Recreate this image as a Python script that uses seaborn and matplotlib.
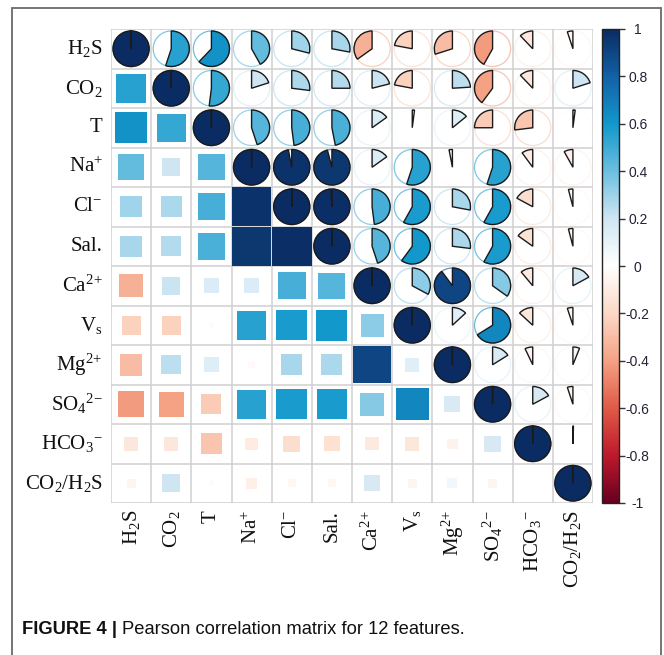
import numpy as np
import pandas as pd
import matplotlib
matplotlib.use("Agg")
import matplotlib.pyplot as plt
import seaborn as sns
from matplotlib.patches import Wedge, Rectangle, Circle
from matplotlib.colors import LinearSegmentedColormap

# ---------------- data ----------------
features = ["H$_2$S", "CO$_2$", "T", "Na$^{+}$", "Cl$^{-}$", "Sal.", "Ca$^{2\\!+}$",
            "V$_\\mathrm{s}$", "Mg$^{2\\!+}$", "SO$_4{}^{2\\!-}$", "HCO$_3{}^{-}$",
            "CO$_2$/H$_2$S"]

# upper-triangle correlations, row by row (each row: vs. the following features)
r_H2S = [0.55, 0.62, 0.42, 0.29, 0.28, -0.35, -0.22, -0.30, -0.42, -0.12, -0.05]
r_CO2 = [0.52, 0.20, 0.27, 0.25, 0.21, -0.22, 0.24, -0.40, -0.12, 0.20]
r_T = [0.45, 0.48, 0.47, 0.15, 0.02, 0.14, -0.25, -0.27, 0.02]
r_Na = [0.97, 0.96, 0.15, 0.55, -0.03, 0.55, -0.10, -0.08]
r_Cl = [0.99, 0.48, 0.58, 0.28, 0.58, -0.17, -0.04]
r_Sal = [0.45, 0.60, 0.27, 0.58, -0.15, -0.04]
r_Ca = [0.33, 0.90, 0.35, -0.11, 0.17]
r_Vs = [0.13, 0.66, -0.13, -0.05]
r_Mg = [0.16, -0.07, 0.06]
r_SO4 = [0.17, -0.05]
r_HCO3 = [0.005]

cbar_ticks = [1, 0.8, 0.6, 0.4, 0.2, 0, -0.2, -0.4, -0.6, -0.8, -1]
cbar_ticklabels = ["1", "0.8", "0.6", "0.4", "0.2", "0", "-0.2", "-0.4", "-0.6", "-0.8", "-1"]

rows = [r_H2S, r_CO2, r_T, r_Na, r_Cl, r_Sal, r_Ca, r_Vs, r_Mg, r_SO4, r_HCO3]
n = len(features)
corr = np.eye(n)
for i, row in enumerate(rows):
    for k, v in enumerate(row):
        j = i + 1 + k
        corr[i, j] = v
        corr[j, i] = v
df = pd.DataFrame(corr, index=features, columns=features)

# ---------------- style ----------------
sns.set_theme(style="white")
plt.rcParams['font.family'] = ['Liberation Sans', 'DejaVu Sans']
plt.rcParams['mathtext.fontset'] = 'custom'
plt.rcParams['mathtext.rm'] = 'Liberation Serif'
plt.rcParams['mathtext.it'] = 'Liberation Serif:italic'
plt.rcParams['mathtext.bf'] = 'Liberation Serif:bold'

cmap = LinearSegmentedColormap.from_list("corr", [
    (0.0, "#67001F"), (0.1, "#BE1A2C"), (0.2, "#E05A47"), (0.3, "#F4A285"),
    (0.4, "#FCD8C6"), (0.5, "#FFFFFF"), (0.6, "#CFE6F2"), (0.7, "#6CBFE0"),
    (0.8, "#1298CB"), (0.9, "#1262A6"), (1.0, "#0A2C62")])

W, H = 664, 655
fig = plt.figure(figsize=(W / 100, H / 100), dpi=100)
ax = fig.add_axes([111 / W, 1 - 503 / H, 482 / W, 474 / H])
cax = fig.add_axes([602 / W, 1 - 503 / H, 17 / W, 474 / H])

sns.heatmap(df, ax=ax, cbar_ax=cax, cmap=cmap, vmin=-1, vmax=1,
            mask=np.ones((n, n), dtype=bool), xticklabels=features,
            yticklabels=features)

# grid
for k in range(n + 1):
    ax.axhline(k, color="#cfcfcf", lw=1.1, zorder=1)
    ax.axvline(k, color="#cfcfcf", lw=1.1, zorder=1)

rad = 0.45
for i in range(n):
    for j in range(n):
        r = corr[i, j]
        col = cmap((r + 1) / 2)
        cx, cy = j + 0.5, i + 0.5
        if i > j:
            s = np.sqrt(abs(r))
            ax.add_patch(Rectangle((cx - s / 2, cy - s / 2), s, s, facecolor=col,
                                   edgecolor="none", zorder=2))
        else:
            # y axis is inverted: screen angle phi == data angle -phi
            ax.add_patch(Circle((cx, cy), rad, facecolor="white", edgecolor=col,
                                lw=0.9, alpha=0.6, zorder=2))
            a = 359.95 * min(abs(r), 1.0)
            if r >= 0:
                t1, t2 = -90, -90 + a
            else:
                t1, t2 = -90 - a, -90
            ax.add_patch(Wedge((cx, cy), rad, t1, t2, facecolor=col,
                               edgecolor="#1a1a1a", lw=1.0, zorder=3))

ax.set_xlim(0, n)
ax.set_ylim(n, 0)
ax.tick_params(axis="both", length=0)
ax.tick_params(axis="y", pad=6)
ax.tick_params(axis="x", pad=5)
ax.set_yticklabels(features, rotation=0, fontsize=15, family="Liberation Serif",
                   color="#111111")
ax.set_xticklabels(features, rotation=90, fontsize=15, family="Liberation Serif",
                   color="#111111", va="top", ha="center")
for s in ax.spines.values():
    s.set_visible(False)

cbar = ax.collections[0].colorbar
cbar.set_ticks(cbar_ticks)
cbar.set_ticklabels(cbar_ticklabels)
cbar.outline.set_edgecolor("#222222")
cbar.outline.set_linewidth(1.0)
cax.tick_params(axis="y", length=4, width=1, color="#333333", labelsize=10,
                labelcolor="#2a2035", pad=9.5, right=True, left=False)
for t in cax.get_yticklabels():
    t.set_ha("center")

# frame and caption
fig.add_artist(Rectangle((12 / W, -0.05), (661 - 12) / W, 1.05 - 8 / H,
                         transform=fig.transFigure, fill=False,
                         edgecolor="#6a6a6a", lw=1.3, clip_on=False))
t1 = fig.text(22 / W, 1 - 634 / H, "FIGURE 4 |", fontsize=13.2, weight="bold",
              family="Liberation Sans", color="#111111", va="baseline")
fig.canvas.draw()
bb = t1.get_window_extent(renderer=fig.canvas.get_renderer())
fig.text((bb.x1 + 5) / W, 1 - 634 / H, "Pearson correlation matrix for 12 features.",
         fontsize=13.2, family="Liberation Sans", color="#111111", va="baseline")

fig.savefig("out.png", dpi=100)
